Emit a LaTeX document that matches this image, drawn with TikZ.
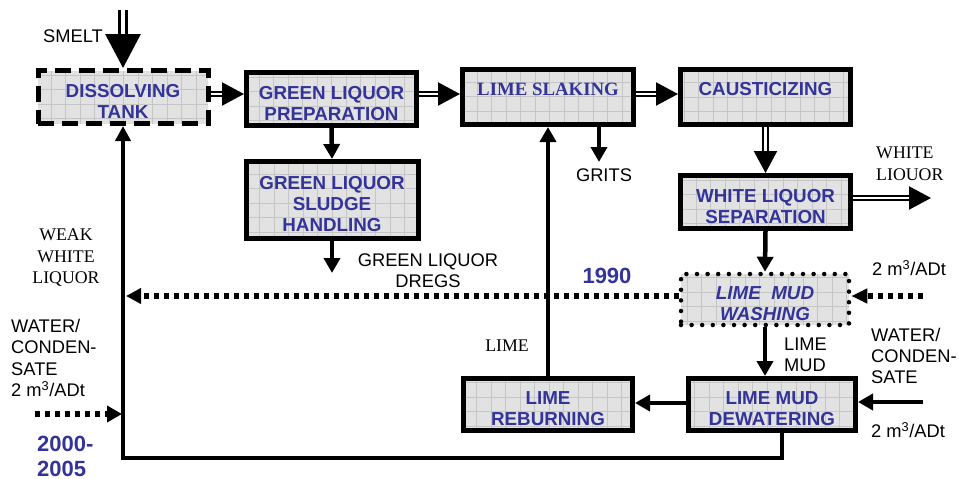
\documentclass[tikz,border=0pt]{standalone}
\usepackage{fontspec}
\setmainfont{Liberation Sans}
\newfontfamily\serifface{Liberation Serif}
\usetikzlibrary{arrows.meta,calc}
\definecolor{boxblue}{RGB}{51,51,153}
\definecolor{boxfill}{RGB}{226,226,226}
\definecolor{gridc}{RGB}{198,198,198}
\newcommand\tup{\rule{0pt}{22pt}}
\tikzset{
  proc/.style={draw, line width=5pt, fill=boxfill, minimum width=170pt, minimum height=53pt,
    inner sep=0pt, align=center, text=boxblue, font=\fontsize{18.8}{21}\selectfont\bfseries,
    path picture={\draw[gridc, line width=0.6pt, solid] (path picture bounding box.south west) grid[step=14.5pt] (path picture bounding box.north east);}},
  dashbox/.style={dash pattern=on 16pt off 8pt},
  dotbox/.style={line width=4.5pt, line cap=round, dash pattern=on 0pt off 10.6pt},
  dbl/.style={line width=2.2pt, double=white, double distance=2.2pt, -{Triangle[length=22pt,width=23pt]}},
  sgl/.style={line width=4.5pt, -{Triangle[length=15pt,width=16pt]}},
  dotl/.style={line width=5.5pt, dash pattern=on 5pt off 5pt, -{Triangle[length=15pt,width=15pt]}},
  lbl/.style={inner sep=0pt, align=left, font=\fontsize{18.3}{21.3}\selectfont},
  slbl/.style={inner sep=0pt, align=center, font=\fontsize{17.8}{21.5}\selectfont\serifface},
  year/.style={inner sep=0pt, align=left, text=boxblue, font=\fontsize{22}{25}\selectfont\bfseries},
}
\begin{document}
\begin{tikzpicture}[x=1pt,y=-1pt]
\useasboundingbox[fill=white] (0,0) rectangle (959,479);

% process boxes
\node[proc, dashbox, minimum width=170pt] (dis) at (123,97) {\tup DISSOLVING\\TANK};
\node[proc] (glp) at (331.5,99) {\tup GREEN LIQUOR\\PREPARATION};
\node[proc, minimum height=77pt, minimum width=172pt] (gls) at (332,200) {\tup GREEN LIQUOR\\SLUDGE\\HANDLING};
\node[proc, minimum height=55pt, minimum width=171pt, font=\fontsize{18.8}{21}\selectfont\serifface\bfseries] (ls) at (548,97) {LIME SLAKING\\[-5pt]\mbox{}};
\node[proc, minimum height=55pt] (cau) at (765.5,97) {CAUSTICIZING\\[-5pt]\mbox{}};
\node[proc] (wls) at (765.5,202) {\tup WHITE LIQUOR\\SEPARATION};
\node[proc, dotbox, minimum width=168pt, minimum height=51pt, font=\fontsize{18.8}{21}\selectfont\bfseries\itshape] (lmw) at (765,299.5) {\tup LIME~~MUD\\WASHING};
\node[proc, minimum height=52pt, minimum width=169pt] (lrb) at (548,404.5) {\tup LIME\\REBURNING};
\node[proc, minimum height=52pt, minimum width=167pt] (lmd) at (772,404.5) {\tup LIME MUD\\DEWATERING};

% free ends
\coordinate (smeltin) at (123,10);
\coordinate (wlout) at (931,198);
\coordinate (dregs) at (332,273);
\coordinate (grits) at (599,162);
\coordinate (win) at (923,402);
\coordinate (dotin) at (923,296);
\coordinate (wwl) at (126,296);
\coordinate (wleft) at (35,414);
\coordinate (wleftend) at (122,414);
\coordinate (ret) at (782,458);

% double (liquor) lines
\draw[dbl, line width=3pt, double distance=3.5pt, -{Triangle[length=34pt,width=35pt]}] (smeltin) -- (dis.north);
\draw[dbl] (dis.east |- 0,94) -- (glp.west |- 0,94);
\draw[dbl] (glp.east |- 0,94) -- (ls.west |- 0,94);
\draw[dbl] (ls.east |- 0,94) -- (cau.west |- 0,94);
\draw[dbl] (cau.south) -- (wls.north);
\draw[dbl] (wls.east |- wlout) -- (wlout);

% single lines
\draw[sgl] (glp.south) -- (gls.north);
\draw[sgl] (gls.south) -- (dregs);
\draw[sgl] (ls.south -| grits) -- (grits);
\draw[sgl] (wls.south) -- (lmw.north);
\draw[sgl] (lmw.south) -- (lmw.south |- lmd.north);
\draw[sgl] (lmd.west |- 0,403) -- (lrb.east |- 0,403);
\draw[sgl] (lrb.north) -- (ls.south);
\draw[sgl] (win) -- (lmd.east |- win);
\draw[line width=4.5pt, -{Triangle[length=15pt,width=15pt]}] ([xshift=10pt]lmd.south) -- (ret) -| (dis.south);

% dotted lines
\draw[dotl, -{Triangle[length=16pt,width=14pt]}] (dotin) -- (lmw.east |- dotin);
\draw[dotl] (lmw.west |- wwl) -- (wwl);
\draw[dotl, -{Triangle[length=15pt,width=16pt]}] (wleft) -- (wleftend);

% labels
\node[lbl, anchor=west] (smelt) at (43,36) {SMELT};
\node[slbl] (weak) at (66,258) {WEAK\\WHITE\\LIQUOR};
\node[lbl, anchor=west] (wcl) at (11,358) {WATER/\\CONDEN-\\SATE\\2 m\textsuperscript{3}/ADt};
\node[year, anchor=west] (y2000) at (37,456) {2000-\\2005};
\node[lbl, align=center] (dregl) at (428,271) {GREEN LIQUOR\\DREGS};
\node[lbl] (gritl) at (604,175) {GRITS};
\node[slbl, align=left, anchor=west] (wll) at (876,164) {WHITE\\LIOUOR};
\node[slbl] (limel) at (507,346) {LIME};
\node[lbl, anchor=west] (lmudl) at (784,355) {LIME\\MUD};
\node[year] (y1990) at (607,276) {1990};
\node[lbl, anchor=west] (m3a) at (872,268) {2 m\textsuperscript{3}/ADt};
\node[lbl, anchor=west] (wcr) at (871,356) {WATER/\\CONDEN-\\SATE};
\node[lbl, anchor=west] (m3b) at (871,430) {2 m\textsuperscript{3}/ADt};
\end{tikzpicture}
\end{document}
